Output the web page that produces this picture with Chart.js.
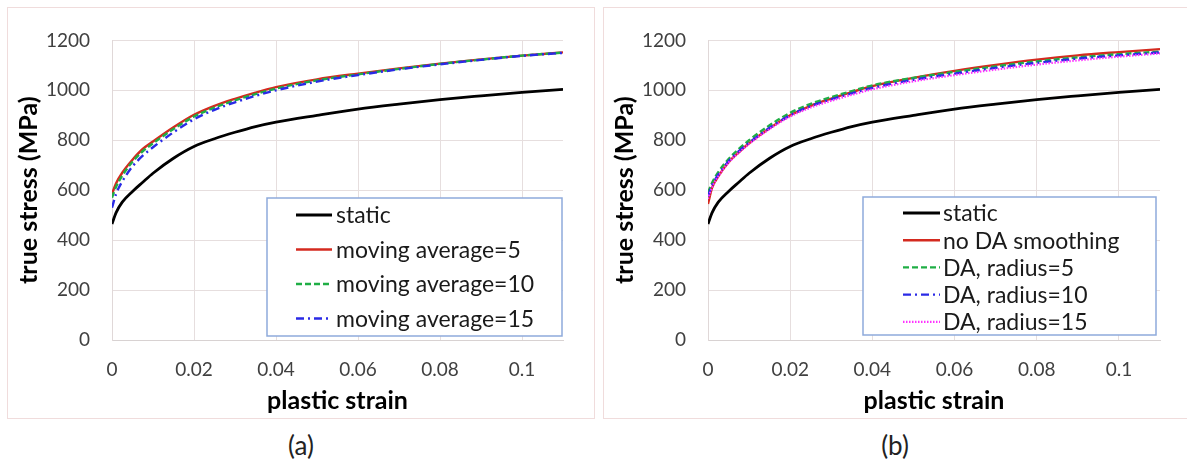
<!DOCTYPE html>
<html>
<head>
<meta charset="utf-8">
<script src="https://cdn.jsdelivr.net/npm/chart.js@4.4.0/dist/chart.umd.min.js"></script>
<style>
  body { margin: 0; background: #fff; width: 1187px; height: 461px; position: relative; overflow: hidden; font-family: Lato, sans-serif; }
  .frame { position: absolute; top: 7px; height: 412px; border: 1px solid #f0dcdc; box-sizing: border-box; }
  .panel { position: absolute; top: 7px; height: 411px; }
  .cap { position: absolute; top: 428px; font-size: 26px; color: #222; text-align: center; line-height: 34px; }
</style>
</head>
<body>
<div class="frame" style="left:7px;width:588px"></div>
<div class="frame" style="left:603px;width:590px"></div>
<div class="panel" style="left:7px;width:587px"><canvas id="chartA"></canvas></div>
<div class="panel" style="left:603px;width:583px"><canvas id="chartB"></canvas></div>
<div class="cap" style="left:251px;width:100px">(a)</div>
<div class="cap" style="left:845px;width:100px">(b)</div>
<script>
// plastic strain sample points
const strain = [0, 0.001, 0.0025, 0.005, 0.0075, 0.01, 0.015, 0.02, 0.025, 0.03, 0.035, 0.04, 0.05, 0.06, 0.07, 0.08, 0.09, 0.1, 0.11];

// true stress (MPa)
const staticStress = [465, 510, 552, 595, 632, 668, 728, 775, 806, 832, 855, 873, 900, 925, 945, 963, 978, 992, 1004];

// (a) moving average smoothing
const movAvg5  = [585, 628, 670, 722, 765, 795, 852, 902, 938, 966, 991, 1013, 1044, 1067, 1088, 1107, 1124, 1139, 1152];
const movAvg10 = [570, 614, 658, 714, 756, 788, 845, 895, 931, 960, 985, 1007, 1040, 1064, 1086, 1106, 1123, 1139, 1151];
const movAvg15 = [530, 585, 635, 695, 738, 772, 832, 884, 922, 952, 978, 1000, 1035, 1061, 1084, 1104, 1122, 1138, 1150];

// (b) DA smoothing
const noDA  = [545, 610, 655, 712, 752, 788, 848, 900, 938, 967, 993, 1017, 1050, 1078, 1102, 1123, 1140, 1153, 1165];
const daR5  = [590, 630, 672, 725, 765, 800, 860, 910, 946, 973, 997, 1020, 1050, 1074, 1096, 1116, 1132, 1145, 1155];
const daR10 = [575, 620, 662, 716, 756, 790, 850, 900, 937, 964, 988, 1010, 1042, 1067, 1090, 1110, 1127, 1140, 1152];
const daR15 = [565, 612, 655, 710, 750, 785, 845, 895, 931, 958, 982, 1004, 1036, 1061, 1083, 1103, 1120, 1135, 1148];

const labelsA = ['static', 'moving average=5', 'moving average=10', 'moving average=15'];
const labelsB = ['static', 'no DA smoothing', 'DA, radius=5', 'DA, radius=10', 'DA, radius=15'];

// axis ticks
const strainTicks = [0, 0.02, 0.04, 0.06, 0.08, 0.1];
const stressTicks = [0, 200, 400, 600, 800, 1000, 1200];

const toPoints = arr => strain.map((x, i) => ({ x: x, y: arr[i] }));

const styles = [
  { borderColor: '#000000', borderWidth: 2.8, borderDash: [] },
  { borderColor: '#d42a1f', borderWidth: 2.4, borderDash: [] },
  { borderColor: '#1fae45', borderWidth: 2.4, borderDash: [6, 3] },
  { borderColor: '#2a2ae6', borderWidth: 2.4, borderDash: [8, 4, 2, 4] },
  { borderColor: '#ff33ff', borderWidth: 2.2, borderDash: [1.5, 1.5] }
];

function buildDatasets(labels, series) {
  return series.map((arr, i) => Object.assign({
    label: labels[i],
    data: toPoints(arr),
    pointRadius: 0,
    fill: false,
    cubicInterpolationMode: 'monotone',
    order: series.length - i
  }, styles[i]));
}

// legend box drawn inside the plot area
const boxLegend = {
  id: 'boxLegend',
  afterDatasetsDraw(chart, args, opts) {
    const ctx = chart.ctx;
    ctx.save();
    ctx.fillStyle = '#ffffff';
    ctx.fillRect(opts.left, opts.top, opts.right - opts.left, opts.bottom - opts.top);
    ctx.strokeStyle = '#8eaadb';
    ctx.lineWidth = 1.5;
    ctx.strokeRect(opts.left, opts.top, opts.right - opts.left, opts.bottom - opts.top);
    ctx.font = '23px Lato';
    ctx.textBaseline = 'middle';
    chart.data.datasets.forEach((ds, i) => {
      const y = opts.firstRow + i * opts.rowGap;
      ctx.strokeStyle = ds.borderColor;
      ctx.lineWidth = ds.borderWidth;
      ctx.setLineDash(ds.borderDash);
      ctx.beginPath();
      ctx.moveTo(opts.lineFrom, y);
      ctx.lineTo(opts.lineTo, y);
      ctx.stroke();
      ctx.setLineDash([]);
      ctx.fillStyle = '#1a1a1a';
      ctx.fillText(ds.label, opts.textX, y + 1);
    });
    ctx.restore();
  }
};

const gridColor = '#e6dede';
const tickColor = '#404040';

function makeChart(id, datasets, legend, padRight) {
  return new Chart(document.getElementById(id), {
    type: 'line',
    data: { datasets: datasets },
    plugins: [boxLegend],
    options: {
      responsive: true,
      maintainAspectRatio: false,
      animation: false,
      layout: { padding: { left: 0, top: 19, right: padRight, bottom: 0 } },
      plugins: {
        legend: { display: false },
        tooltip: { enabled: false },
        boxLegend: legend
      },
      scales: {
        x: {
          type: 'linear',
          min: 0,
          max: 0.11,
          bounds: 'data',
          afterBuildTicks: s => { s.ticks = strainTicks.map(v => ({ value: v })); },
          afterFit: s => { s.height = 78; },
          grid: { color: gridColor, drawTicks: false },
          border: { color: '#d8d2d2' },
          ticks: {
            padding: 18,
            color: tickColor,
            font: { family: 'Lato', size: 19 },
            callback: v => String(Number(v.toFixed(2)))
          },
          title: {
            display: true,
            text: 'plastic strain',
            color: '#000',
            font: { family: 'Lato', size: 25, weight: 'bold' },
            padding: { top: 0, bottom: 2 }
          }
        },
        y: {
          min: 0,
          max: 1200,
          afterBuildTicks: s => { s.ticks = stressTicks.map(v => ({ value: v })); },
          afterFit: s => { s.width = 105; },
          grid: { color: gridColor, drawTicks: false },
          border: { color: '#e0d8d8' },
          ticks: {
            padding: 22,
            color: tickColor,
            font: { family: 'Lato', size: 19 },
            callback: v => String(v)
          },
          title: {
            display: true,
            text: 'true stress (MPa)',
            color: '#000',
            font: { family: 'Lato', size: 25, weight: 'bold' },
            padding: { top: 7, bottom: 0 }
          }
        }
      }
    }
  });
}

makeChart('chartA',
  buildDatasets(labelsA, [staticStress, movAvg5, movAvg10, movAvg15]),
  { left: 260, top: 191, right: 555, bottom: 329, firstRow: 208, rowGap: 34.5, lineFrom: 289, lineTo: 325, textX: 329 },
  31);

makeChart('chartB',
  buildDatasets(labelsB, [staticStress, noDA, daR5, daR10, daR15]),
  { left: 260, top: 190, right: 553, bottom: 328, firstRow: 206, rowGap: 27.2, lineFrom: 300, lineTo: 337, textX: 340 },
  26);
</script>
</body>
</html>
